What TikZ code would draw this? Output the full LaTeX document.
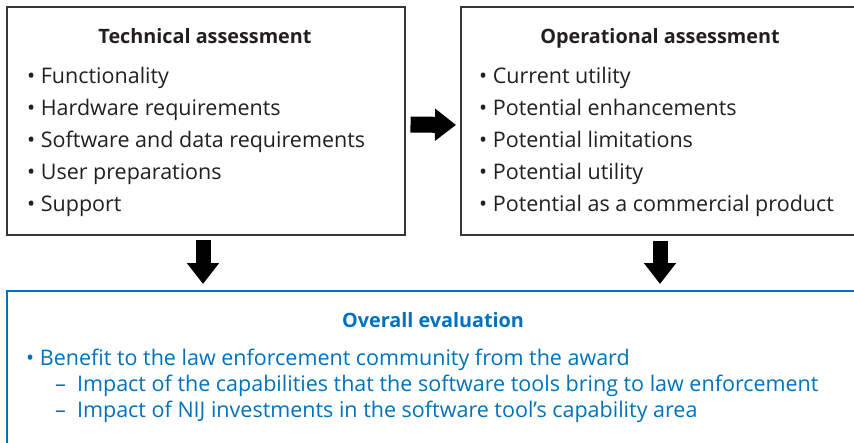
\documentclass[tikz,border=0pt]{standalone}
\usepackage{fontspec}
\setmainfont{Open Sans}
\usetikzlibrary{positioning,calc,arrows.meta}
\definecolor{evalblue}{RGB}{0,114,188}
\definecolor{inkgray}{RGB}{35,31,32}

\begin{document}
\begin{tikzpicture}[x=1pt,y=-1pt,
    box/.style={draw=inkgray!90, line width=2pt, minimum width=398pt, minimum height=228pt},
    head/.style={anchor=base, inner sep=0pt, font=\bfseries\fontsize{19.8}{24}\selectfont},
    item/.style={anchor=base west, inner sep=0pt, font=\fontsize{21.5}{26}\selectfont},
    fat/.style={line width=16pt, -{Triangle[length=21pt,width=31pt]}}]

  \useasboundingbox (0,0) rectangle (854,442);
  \clip (0,0) rectangle (854,442);

  % boxes
  \node[box] (tech) at (205.5,120.5) {};
  \node[box] (oper) at (660,121) {};
  \node[box, draw=evalblue, minimum width=852pt, minimum height=180pt] (eval) at (433,381) {};

  % technical assessment
  \node[head, text=inkgray] (techhead) at (205,43) {Technical assessment};
  \foreach \txt [count=\i] in {Functionality, Hardware requirements,
      Software and data requirements, User preparations, Support}
    \node[item, text=inkgray] (tech\i) at (27,51+32*\i) {\textbullet\ \txt};

  % operational assessment
  \node[head, text=inkgray] (operhead) at (660,43) {Operational assessment};
  \foreach \txt [count=\i] in {Current utility, Potential enhancements,
      Potential limitations, Potential utility, Potential as a commercial product}
    \node[item, text=inkgray] (oper\i) at (479,51+32*\i) {\textbullet\ \txt};

  % overall evaluation
  \node[head, text=evalblue] (evalhead) at (433,327) {Overall evaluation};
  \node[item, text=evalblue] (eval1) at (26,365)
    {\textbullet\ Benefit to the law enforcement community from the award};
  \node[item, text=evalblue] (eval2) at (55,391)
    {–\ \ Impact of the capabilities that the software tools bring to law enforcement};
  \node[item, text=evalblue] (eval3) at (55,417)
    {–\ \ Impact of NIJ investments in the software tool’s capability area};

  % arrows
  \draw[fat, shorten <=5pt, shorten >=4pt] ([yshift=-4pt]tech.east) -- ([yshift=-4pt]oper.west);
  \draw[fat, line width=15pt, shorten <=4.5pt, shorten >=6pt]
    ([xshift=-2.5pt]tech.south) -- ([xshift=-2.5pt]tech.south |- eval.north);
  \draw[fat, line width=15pt, shorten <=4.5pt, shorten >=6pt]
    (oper.south) -- (oper.south |- eval.north);
\end{tikzpicture}
\end{document}
